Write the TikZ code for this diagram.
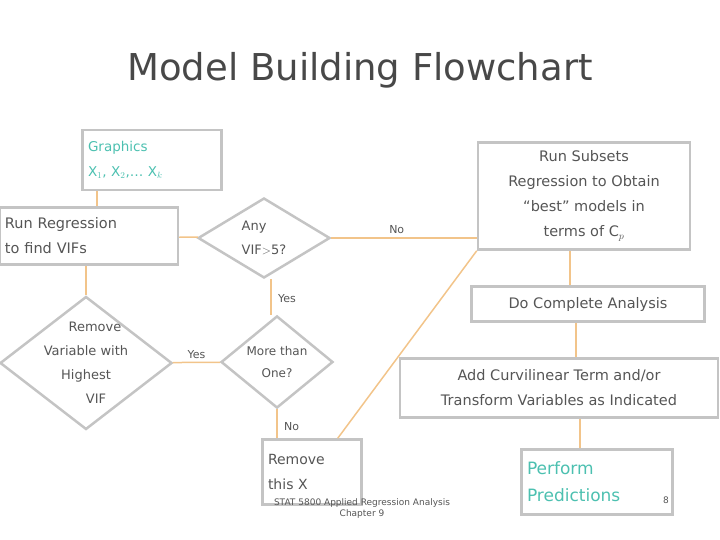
\documentclass[tikz,border=0pt]{standalone}
\usepackage{fontspec}
\setmainfont{DejaVu Sans}
\usetikzlibrary{shapes.geometric}
\definecolor{boxline}{HTML}{C4C4C4}
\definecolor{txt}{HTML}{555555}
\definecolor{conn}{HTML}{F2C48A}
\definecolor{teal}{HTML}{4CC0B0}
\tikzset{
  box/.style={draw=boxline, line width=2.5pt, rectangle, inner sep=3pt, text=txt, font=\fontsize{14.5}{25}\selectfont},
  dia/.style={draw=boxline, line width=2.5pt, diamond, inner sep=0pt, text=txt, font=\fontsize{13}{24}\selectfont},
  conline/.style={draw=conn, line width=1.5pt},
  lab/.style={text=txt, font=\fontsize{11}{13}\selectfont}
}
\begin{document}
\begin{tikzpicture}[x=1pt,y=-1pt]
\useasboundingbox (0,0) rectangle (720,540);
\node[text=txt!85!black, font=\fontsize{37}{40}\selectfont] (title) at (360,70) {Model Building Flowchart};

\node[box, minimum width=139pt, minimum height=60pt, text=teal, align=left, text width=128pt, font=\fontsize{13.5}{25}\selectfont] (graph) at (152,160) {Graphics\\X$_1$, X$_2$,\dots\ X$_k$};
\node[box, minimum width=178pt, minimum height=57pt, align=left, text width=168pt] (runreg) at (89,236) {Run Regression\\to find VIFs};
\node[dia, minimum width=132pt, minimum height=80pt, align=left] (anyvif) at (264,238) {Any\\VIF$>$5?};
\node[box, minimum width=212pt, minimum height=107pt, align=center] (subsets) at (584,196) {Run Subsets\\Regression to Obtain\\``best'' models in\\terms of C$_p$};
\node[box, minimum width=233pt, minimum height=35pt] (complete) at (588,304) {Do Complete Analysis};
\node[box, minimum width=318pt, minimum height=59pt, align=center] (curv) at (559,388) {Add Curvilinear Term and/or\\Transform Variables as Indicated};
\node[box, minimum width=151pt, minimum height=65pt, text=teal, align=left, text width=140pt, font=\fontsize{17}{27}\selectfont] (pred) at (597,482) {Perform\\Predictions};
\node[dia, minimum width=112pt, minimum height=90pt, align=center, font=\fontsize{12}{22}\selectfont] (more) at (277,362) {More than\\One?};
\node[dia, minimum width=172pt, minimum height=133pt] (remvar) at (86,363) {};
\node[text=txt, align=center, font=\fontsize{13}{24}\selectfont] (remvartext) at (remvar.center) {\hspace*{18pt}Remove\\Variable with\\Highest\hspace*{40pt}\\\hspace*{20pt}VIF};
\node[box, minimum width=99pt, minimum height=65pt, align=left, text width=88pt, font=\fontsize{14}{25}\selectfont] (remx) at (312,472) {Remove\\this X};

\draw[conline] (graph.south -| 97,0) -- (runreg.north -| 97,0);
\draw[conline] (runreg) -- (anyvif);
\draw[conline] (anyvif) -- node[lab, above, pos=0.45] (no1) {No} (subsets.west |- anyvif);
\draw[conline] (more.north -| 271,0) -- node[lab, right, pos=0.45, xshift=3pt] (yes1) {Yes} (anyvif.south -| 271,0);
\draw[conline] (more) -- node[lab, above, pos=0.5] (yes2) {Yes} (remvar);
\draw[conline] (remvar) -- (runreg.south -| remvar);
\draw[conline] (more) -- node[lab, right, pos=0.6, xshift=3pt] (no2) {No} (remx.north -| more);
\draw[conline] (remx.north east) ++(-25,0) coordinate (rxs) (rxs) -- (subsets.south west);
\draw[conline] (subsets.south -| 570,0) -- (complete.north -| 570,0);
\draw[conline] (complete.south -| 576,0) -- (curv.north -| 576,0);
\draw[conline] (curv.south -| 580,0) -- (pred.north -| 580,0);

\node[text=txt, font=\fontsize{9}{11}\selectfont, align=center] (foot) at (362,509) {STAT 5800 Applied Regression Analysis\\Chapter 9};
\node[text=txt, font=\fontsize{9}{10}\selectfont] (pnum) at (666,500) {8};
\end{tikzpicture}
\end{document}
